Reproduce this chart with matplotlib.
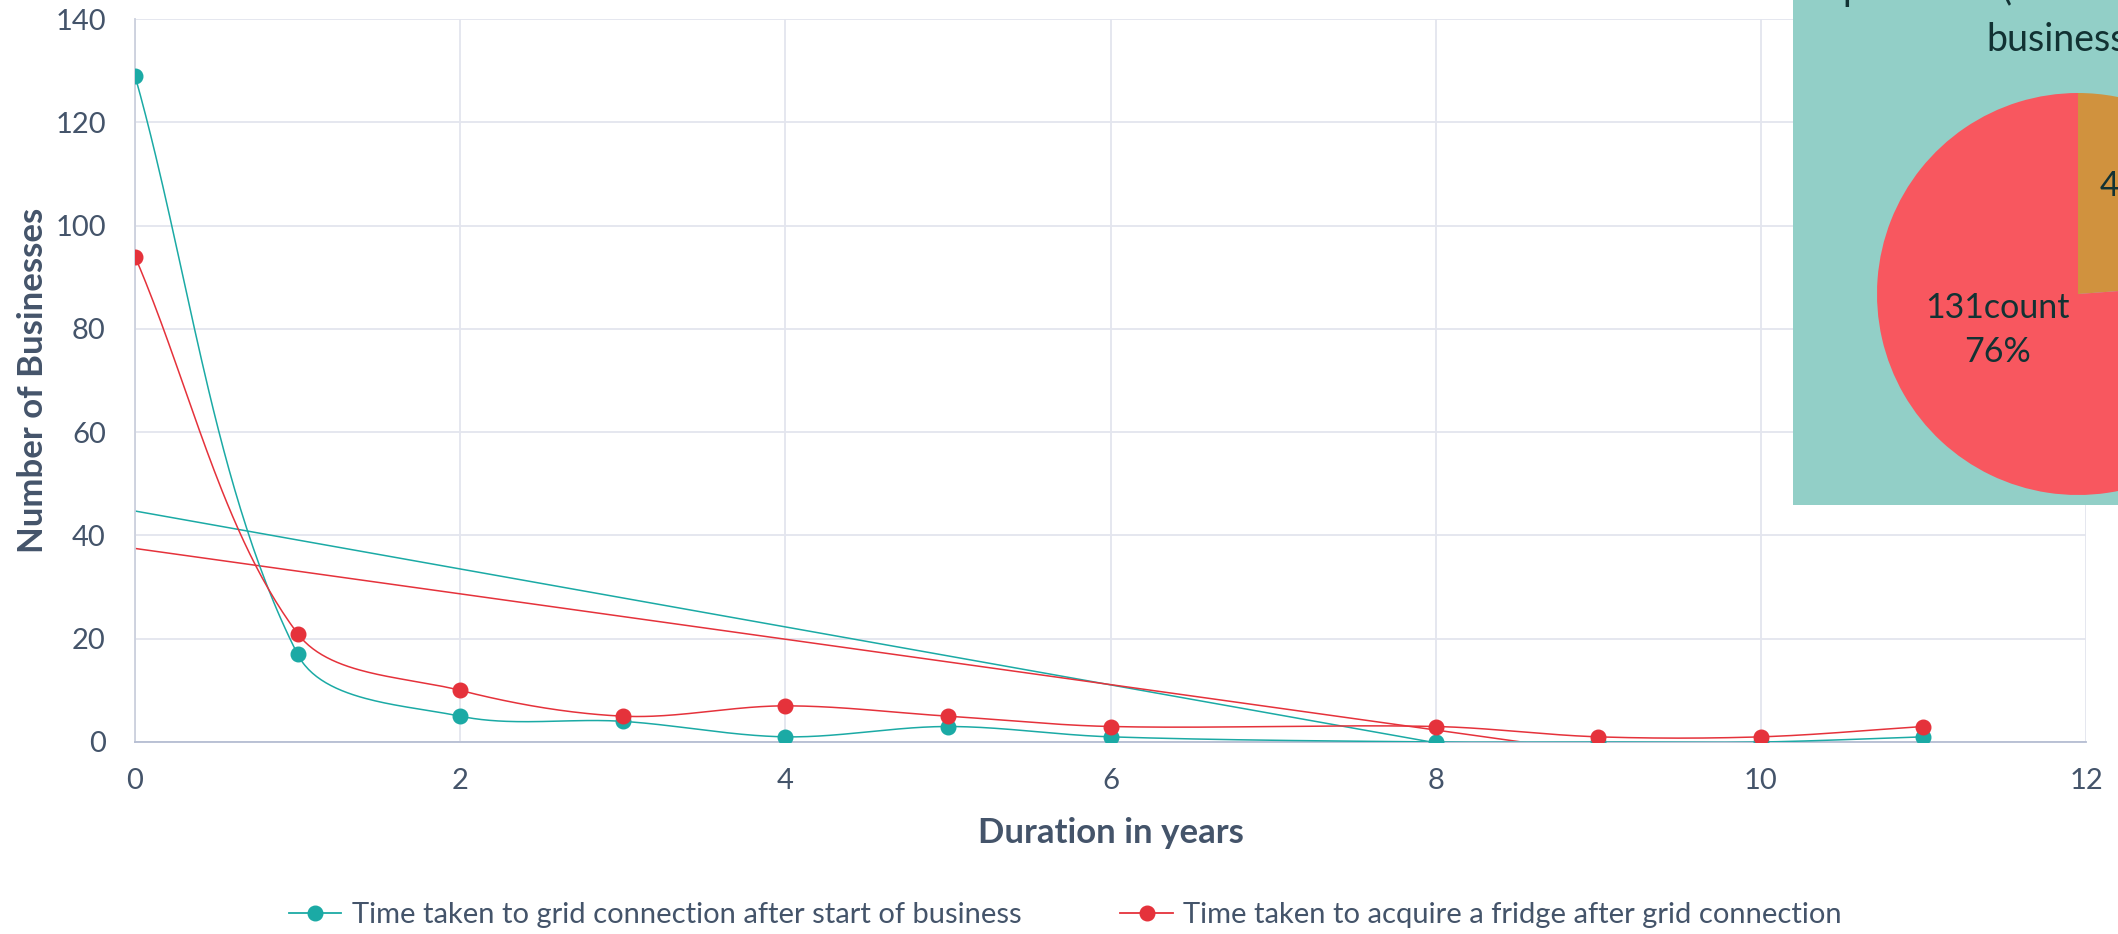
import numpy as np
import matplotlib
matplotlib.use("Agg")
import matplotlib.pyplot as plt

# ---- data -------------------------------------------------------------
years = [0, 1, 2, 3, 4, 5, 6, 8, 9, 10, 11]
grid_connection = [129, 17, 5, 4, 1, 3, 1, 0, 0, 0, 1]
fridge_after_grid = [94, 21, 10, 5, 7, 5, 3, 3, 1, 1, 3]

series_names = ["Time taken to grid connection after start of business",
                "Time taken to acquire a fridge after grid connection"]

pie_counts = [41, 131]
x_ticks = [0, 2, 4, 6, 8, 10, 12]
y_ticks = [0, 20, 40, 60, 80, 100, 120, 140]

# ---- style ------------------------------------------------------------
TEAL = "#1BAAA5"
RED = "#E5323B"
TEXT = "#44546A"
GRID = "#E3E5EE"
DARK = "#123233"
plt.rcParams["font.family"] = ["Lato", "DejaVu Sans"]

W, H = 2118, 934
fig = plt.figure(figsize=(W / 100, H / 100), dpi=100)
fig.patch.set_facecolor("white")


def px_box(left, top, right, bottom):
    """Figure-fraction rectangle from pixel edges (origin at top-left)."""
    return [left / W, (H - bottom) / H, (right - left) / W, (bottom - top) / H]


def smooth(axes, xs, ys, n=60):
    """Smoothed curve through every point, built from cubic Bezier segments
    whose control arms are scaled by neighbouring chord lengths on screen."""
    pts = axes.transData.transform(np.column_stack([xs, ys]).astype(float))
    m = len(pts)
    c_out = np.zeros_like(pts)
    c_in = np.zeros_like(pts)
    for i in range(m):
        prev = pts[i - 1] if i > 0 else pts[i]
        nxt = pts[i + 1] if i < m - 1 else pts[i]
        d = nxt - prev
        a = np.linalg.norm(pts[i] - prev)
        b = np.linalg.norm(nxt - pts[i])
        s = a + b if a + b > 0 else 1.0
        c_out[i] = pts[i] + d * (b / s) / 3.0
        c_in[i] = pts[i] - d * (a / s) / 3.0
    t = np.linspace(0, 1, n)[:, None]
    segs = []
    for i in range(m - 1):
        p1, q1, q2, p2 = pts[i], c_out[i], c_in[i + 1], pts[i + 1]
        seg = ((1 - t) ** 3) * p1 + 3 * ((1 - t) ** 2) * t * q1 \
            + 3 * (1 - t) * t ** 2 * q2 + t ** 3 * p2
        segs.append(seg if i == 0 else seg[1:])
    curve = axes.transData.inverted().transform(np.vstack(segs))
    return curve[:, 0], curve[:, 1]


ax = fig.add_axes(px_box(135, 19, 2086, 742))
ax.set_xlim(0, 12)
ax.set_ylim(0, 140)
ax.set_xticks(x_ticks)
ax.set_yticks(y_ticks)
ax.grid(True, color=GRID, linewidth=1.3)
ax.set_axisbelow(True)
for side in ("top", "right"):
    ax.spines[side].set_visible(False)
ax.spines["left"].set_color("#CBD0DD")
ax.spines["bottom"].set_color("#B5BDD2")
ax.spines["left"].set_linewidth(1.3)
ax.spines["bottom"].set_linewidth(1.3)
ax.tick_params(length=0, labelsize=21, colors=TEXT)
ax.tick_params(axis="y", pad=21)
ax.tick_params(axis="x", pad=19)

handles = []
for vals, col, name, z in [(grid_connection, TEAL, series_names[0], 3),
                           (fridge_after_grid, RED, series_names[1], 4)]:
    sx, sy = smooth(ax, years, vals)
    ax.plot(sx, sy, color=col, lw=1.1, zorder=z)
    ax.plot(years, vals, "o", color=col, ms=10.5, zorder=z + 0.5)
    slope, intercept = np.polyfit(years, vals, 1)
    tx = np.array([years[0], years[-1]], dtype=float)
    ax.plot(tx, slope * tx + intercept, color=col, lw=1.1, zorder=2)
    h, = ax.plot([], [], color=col, lw=1.3, marker="o", ms=10.5, label=name)
    handles.append(h)

fig.text((135 + 2086) / 2 / W, (H - 833) / H, "Duration in years", ha="center",
         va="center", fontsize=25, fontweight="bold", color=TEXT)
fig.text(33 / W, (H - 380) / H, "Number of Businesses", ha="center", va="center",
         rotation=90, fontsize=25, fontweight="bold", color=TEXT)

fig.legend(handles=handles, loc="center", bbox_to_anchor=(0.503, (H - 915) / H),
           ncol=2, frameon=False, fontsize=21, labelcolor=TEXT,
           handlelength=1.8, handletextpad=0.35, columnspacing=3.4)

# ---- inset pie panel --------------------------------------------------
bax = fig.add_axes(px_box(1793, 0, W + 400, 505), zorder=5)
bax.set_facecolor("#92CFC7")
bax.set_xticks([])
bax.set_yticks([])
for sp in bax.spines.values():
    sp.set_visible(False)

title_kw = dict(ha="left", va="baseline", fontsize=27, color=DARK,
                transform=fig.transFigure, clip_on=True)
bax.text(1843 / W, (H - 0) / H, "purchase (count and % of", **title_kw)
bax.text(1986 / W, (H - 50) / H, "businesses)", **title_kw)

cx, cy, r = 2078, 294, 201
pax = fig.add_axes(px_box(cx - r, cy - r, cx + r, cy + r), zorder=6)
pax.pie(pie_counts, colors=["#D0923E", "#F8575F"], startangle=90,
        counterclock=False, radius=1.0)
pax.set_xlim(-1, 1)
pax.set_ylim(-1, 1)
pax.set_aspect("equal")
pax.axis("off")

total = sum(pie_counts)
label_pos = [(0.42, 0.43), (-0.40, -0.18)]
for cnt, (lx, ly) in zip(pie_counts, label_pos):
    pax.text(lx, ly, f"{cnt}count\n{round(100 * cnt / total)}%", ha="center",
             va="center", fontsize=24.5, color=DARK, linespacing=1.45)

fig.savefig("out.png", dpi=100, facecolor="white")
